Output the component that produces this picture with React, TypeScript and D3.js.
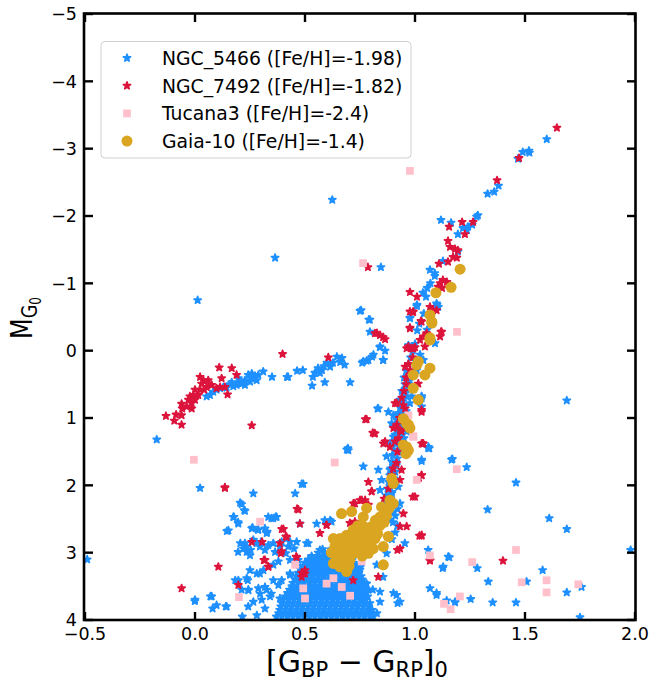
import React from "react";
import * as d3 from "d3";

type P = [number, number];

// ---------- data (colour, absolute magnitude) ----------
const ngc5466: P[] = [
  // upper RGB / AGB
  [1.599, -3.14], [1.49, -2.95], [1.518, -2.97], [1.52, -2.94], [1.468, -2.85], [1.38, -2.45], [1.36, -2.36],
  [1.33, -2.33], [1.286, -2.01], [1.28, -1.99], [1.26, -1.87], [1.24, -1.84], [1.236, -1.79], [1.218, -1.82],
  [1.195, -1.73], [1.118, -1.94], [1.164, -1.9], [1.195, -1.47], [1.127, -1.33], [1.068, -1.2], [1.09, -1.11],
  [0.845, -1.24], [1.055, -0.93], [1.036, -0.86], [1.009, -0.68], [1.1, -0.68], [0.977, -0.49], [0.755, -0.6],
  [0.795, -0.46], [0.795, -0.28], [1.055, -0.31], [0.364, -1.38], [0.624, -2.24], [0.012, -0.75],
  [1.01, -0.3], [1.02, -0.4], [1.04, -0.55], [1.05, -0.8], [1.07, -1.0], [1.09, -1.15],
  // horizontal branch
  [0.75, -0.59], [0.79, -0.46], [0.84, -0.05], [0.864, 0.0], [0.855, 0.14], [0.76, 0.18], [0.78, 0.15],
  [0.805, 0.09], [0.705, 0.47], [0.68, 0.21], [0.66, 0.17], [0.645, 0.09], [0.668, 0.11], [0.627, 0.18],
  [0.614, 0.24], [0.6, 0.18], [0.586, 0.23], [0.577, 0.29], [0.559, 0.26], [0.545, 0.33], [0.536, 0.39],
  [0.532, 0.52], [0.59, 0.47], [0.568, 0.33], [0.49, 0.29], [0.464, 0.3], [0.423, 0.39], [0.418, 0.39],
  [0.35, 0.39], [0.31, 0.31], [0.288, 0.36], [0.273, 0.4], [0.258, 0.41], [0.242, 0.36], [0.25, 0.46],
  [0.227, 0.44], [0.212, 0.49], [0.197, 0.48], [0.189, 0.51], [0.174, 0.53], [0.159, 0.5], [0.144, 0.55],
  [0.129, 0.54], [0.114, 0.56], [0.098, 0.58], [0.083, 0.61], [0.068, 0.66], [0.053, 0.68], [0.258, 0.34],
  [0.28, 0.44], [0.227, 0.51], [0.197, 0.41], [0.167, 0.47], [-0.174, 1.32], [0.695, 1.45],
  // RGB
  [0.977, -0.48], [0.97, -0.08], [0.83, 0.86], [0.879, 0.91], [0.894, 1.08], [0.909, 1.25], [0.955, 1.13],
  [0.932, 0.93], [0.947, 0.83], [0.962, 0.68], [0.97, 0.49], [0.841, -0.06], [0.811, 0.06], [0.788, 0.14],
  [0.765, 0.16], [0.856, 0.14], [1.008, -0.66], [1.098, -0.7], [1.106, -0.65], [1.091, -0.11], [1.023, 0.06],
  [1.038, 0.14], [1.008, 0.29], [0.977, 0.39], [0.97, 0.46], [0.962, 0.58], [0.947, 0.63], [0.985, 0.68],
  [0.932, 0.73], [1.03, 0.71], [0.939, 0.88], [0.924, 0.93], [0.902, 0.96], [0.917, 1.03], [0.833, 0.86],
  [0.977, 0.78], [0.902, 1.28], [0.886, 1.38], [1.061, 1.43], [0.932, 1.33], [0.962, 1.2], [1.03, 0.83],
  [0.96, 0.3], [0.97, 0.2], [0.98, 0.1], [0.99, 0.0], [1.0, -0.1], [0.95, 0.4], [0.955, 0.5], [0.94, 0.6],
  [0.945, 0.75], [0.935, 0.85], [0.93, 0.95], [1.03, 0.68],
  [0.94, 1.0], [0.93, 1.05], [0.95, 1.08], [0.925, 1.12], [0.945, 1.15], [0.92, 1.2], [0.935, 1.25],
  [0.915, 1.3], [0.94, 1.32], [0.91, 1.38], [0.93, 1.42], [0.905, 1.47], [0.925, 1.5], [0.9, 1.55],
  [0.92, 1.6], [0.895, 1.65], [0.915, 1.7], [0.89, 1.75], [0.91, 1.8], [0.885, 1.85], [0.905, 1.9],
  [0.88, 1.95], [0.9, 2.0], [0.875, 2.05], [0.895, 2.1], [0.87, 2.15], [0.89, 2.2], [0.865, 2.25],
  [0.885, 2.3], [0.86, 2.35], [0.88, 2.4], [0.855, 2.45], [0.875, 2.5], [0.92, 2.35], [0.91, 2.45],
  [0.9, 2.55], [0.92, 2.6], [0.91, 2.7], [0.895, 2.8], [0.9, 2.4], [0.955, 0.95], [0.96, 0.9], [0.95, 1.3],
  [0.697, 1.48], [0.765, 1.72], [0.833, 1.77], [0.848, 1.92], [0.841, 2.07], [0.932, 2.27], [0.901, 1.67],
  [0.924, 2.02], [0.886, 1.77], [0.871, 1.57], [1.06, 1.45], [1.166, 1.62], [1.03, 1.62], [0.954, 2.86],
  [1.06, 2.96], [1.128, 3.21], [1.151, 3.06], [1.098, 3.6], [1.182, 3.73], [0.621, 2.54], [0.59, 2.52],
  [0.742, 3.6], [0.788, 3.55], [0.841, 3.58], [0.841, 3.73], [0.916, 3.63], [0.932, 3.73], [0.78, 3.46],
  [0.826, 3.18], [0.871, 3.01], [0.886, 2.52], [0.894, 2.12],
  // scattered field
  [0.023, 2.04], [0.265, 2.12], [0.455, 2.12], [0.492, 1.98], [0.212, 2.28], [0.227, 2.38], [0.174, 2.47],
  [0.197, 2.57], [0.152, 2.67], [0.258, 2.64], [0.288, 2.66], [0.333, 2.47], [0.371, 2.47], [0.356, 2.49],
  [0.265, 2.81], [0.227, 2.86], [0.22, 2.94], [0.235, 2.99], [0.25, 3.04], [0.28, 2.86], [0.295, 2.91],
  [0.326, 2.71], [0.333, 2.89], [0.364, 2.99], [0.386, 2.91], [0.424, 2.91], [0.462, 2.84], [0.515, 2.86],
  [0.432, 3.11], [0.379, 3.13], [0.356, 3.18], [0.311, 3.26], [0.295, 3.31], [0.25, 3.26], [0.235, 3.38],
  [0.197, 3.41], [0.212, 3.55], [0.242, 3.55], [0.288, 3.53], [0.326, 3.55], [0.379, 3.48], [0.432, 3.33],
  [0.386, 3.68], [0.341, 3.65], [0.303, 3.7], [0.265, 3.73], [0.242, 3.8], [0.144, 3.8], [0.098, 3.78],
  [0.076, 3.65], [0.0, 3.7], [0.477, 2.57], [0.553, 2.57], [0.614, 2.52], [0.583, 3.06], [0.568, 2.96],
  [0.644, 2.96], [0.689, 3.31], [0.205, 2.26], [0.224, 2.37], [0.177, 2.47], [0.196, 2.55], [0.262, 2.63],
  [0.285, 2.66], [0.145, 2.68], [0.347, 2.49], [0.366, 2.47], [0.318, 2.64], [0.328, 2.69], [0.206, 2.86],
  [0.234, 2.91], [0.253, 2.96], [0.3, 2.84], [0.318, 2.96], [0.356, 2.86], [0.394, 2.84], [0.432, 2.84],
  [0.45, 2.94], [0.507, 2.86], [0.413, 3.01], [0.469, 3.11], [0.196, 2.99], [0.183, 3.41], [0.24, 3.41],
  [0.281, 3.31], [0.318, 3.51], [0.243, 3.56], [0.296, 3.61], [0.347, 3.61], [0.356, 3.41], [-0.001, 3.72],
  [0.07, 3.65], [0.08, 3.83], [0.14, 3.8], [0.215, 3.95], [0.281, 3.93], [0.318, 3.83], [0.394, 3.41],
  [0.432, 3.31], [-0.49, 3.1], [0.485, 1.98], [0.69, 1.47], [0.752, 3.46], [0.77, 3.7], [0.808, 3.55],
  [0.827, 3.9], [0.902, 3.6], [0.921, 3.75], [0.855, 3.36], [0.752, 3.21], [0.714, 3.11],
  [1.69, 0.74], [1.065, 1.45], [1.03, 1.64], [1.17, 1.61], [1.235, 1.73], [1.459, 1.96], [1.33, 2.36],
  [1.61, 2.49], [1.69, 2.65], [1.98, 2.96], [1.156, 3.07], [1.126, 3.23], [1.283, 3.23], [1.333, 3.43],
  [1.507, 3.43], [1.58, 3.26], [1.757, 3.51], [1.69, 3.59], [1.068, 3.53], [1.098, 3.63], [1.144, 3.71],
  [1.182, 3.74], [1.253, 3.69], [1.353, 3.74], [1.459, 3.74], [1.75, 3.96], [1.03, 0.68],
];

// dense turn-off / main-sequence region of NGC_5466, read row by row (M_G0, colours)
const ngc5466CoreRows: [number, number[]][] = [
  [2.95, [0.58, 0.62]],
  [3.0, [0.56, 0.59, 0.62, 0.65, 0.67]],
  [3.05, [0.53, 0.555, 0.58, 0.605, 0.63, 0.655, 0.68]],
  [3.1, [0.515, 0.54, 0.565, 0.59, 0.615, 0.64, 0.665, 0.69, 0.71]],
  [3.15, [0.5, 0.525, 0.55, 0.575, 0.6, 0.625, 0.65, 0.675, 0.7, 0.72]],
  [3.2, [0.49, 0.515, 0.54, 0.565, 0.59, 0.615, 0.64, 0.665, 0.69, 0.715, 0.735]],
  [3.25, [0.48, 0.505, 0.53, 0.555, 0.58, 0.605, 0.63, 0.655, 0.68, 0.705, 0.73, 0.75]],
  [3.3, [0.47, 0.495, 0.52, 0.545, 0.57, 0.595, 0.62, 0.645, 0.67, 0.695, 0.72, 0.745]],
  [3.35, [0.46, 0.485, 0.51, 0.535, 0.56, 0.585, 0.61, 0.635, 0.66, 0.685, 0.71, 0.735, 0.755]],
  [3.4, [0.455, 0.48, 0.505, 0.53, 0.555, 0.58, 0.605, 0.63, 0.655, 0.68, 0.705, 0.73, 0.76]],
  [3.45, [0.445, 0.47, 0.495, 0.52, 0.545, 0.57, 0.595, 0.62, 0.645, 0.67, 0.695, 0.72, 0.745, 0.77]],
  [3.5, [0.44, 0.465, 0.49, 0.515, 0.54, 0.565, 0.59, 0.615, 0.64, 0.665, 0.69, 0.715, 0.74, 0.765]],
  [3.55, [0.43, 0.455, 0.48, 0.505, 0.53, 0.555, 0.58, 0.605, 0.63, 0.655, 0.68, 0.705, 0.73, 0.755, 0.78]],
  [3.6, [0.42, 0.445, 0.47, 0.495, 0.52, 0.545, 0.57, 0.595, 0.62, 0.645, 0.67, 0.695, 0.72, 0.745, 0.77]],
  [3.65, [0.41, 0.435, 0.46, 0.485, 0.51, 0.535, 0.56, 0.585, 0.61, 0.635, 0.66, 0.685, 0.71, 0.735, 0.76, 0.785]],
  [3.7, [0.4, 0.425, 0.45, 0.475, 0.5, 0.525, 0.55, 0.575, 0.6, 0.625, 0.65, 0.675, 0.7, 0.725, 0.75, 0.775]],
  [3.75, [0.395, 0.42, 0.445, 0.47, 0.495, 0.52, 0.545, 0.57, 0.595, 0.62, 0.645, 0.67, 0.695, 0.72, 0.745, 0.77, 0.795]],
  [3.8, [0.39, 0.415, 0.44, 0.465, 0.49, 0.515, 0.54, 0.565, 0.59, 0.615, 0.64, 0.665, 0.69, 0.715, 0.74, 0.765, 0.79]],
  [3.85, [0.385, 0.41, 0.435, 0.46, 0.485, 0.51, 0.535, 0.56, 0.585, 0.61, 0.635, 0.66, 0.685, 0.71, 0.735, 0.76, 0.785, 0.805]],
  [3.9, [0.38, 0.405, 0.43, 0.455, 0.48, 0.505, 0.53, 0.555, 0.58, 0.605, 0.63, 0.655, 0.68, 0.705, 0.73, 0.755, 0.78, 0.8]],
  [3.95, [0.37, 0.395, 0.42, 0.445, 0.47, 0.495, 0.52, 0.545, 0.57, 0.595, 0.62, 0.645, 0.67, 0.695, 0.72, 0.745, 0.77, 0.795, 0.81]],
];

const ngc7492: P[] = [
  [1.645, -3.31], [1.473, -2.86], [1.373, -2.53], [1.214, -1.91], [1.264, -1.91], [1.155, -1.84], [1.227, -1.73],
  [1.15, -1.63], [1.159, -1.54], [1.182, -1.51], [1.195, -1.49], [1.173, -1.39], [1.19, -1.38], [1.109, -1.29],
  [1.15, -1.32], [0.786, -1.24], [1.114, -1.0], [1.127, -1.05], [1.145, -1.02], [1.105, -0.95], [1.123, -0.93],
  [0.977, -0.87], [1.009, -0.8], [0.99, -0.57], [1.027, -0.44], [1.068, -0.65], [1.082, -0.6], [0.977, -0.34],
  [1.118, -0.28], [0.827, -0.26], [0.855, -0.2],
  // horizontal branch
  [-0.132, 0.97], [-0.094, 1.04], [-0.086, 0.95], [-0.061, 1.1], [-0.061, 0.96], [-0.058, 0.86], [-0.061, 0.79],
  [-0.03, 0.73], [-0.038, 0.83], [-0.015, 0.86], [-0.023, 0.68], [0.0, 0.58], [-0.008, 0.66], [0.015, 0.66],
  [0.023, 0.58], [0.03, 0.49], [0.038, 0.44], [0.023, 0.39], [0.06, 0.44], [0.042, 0.58], [0.053, 0.54],
  [0.076, 0.51], [0.098, 0.56], [0.121, 0.41], [0.114, 0.54], [0.136, 0.54], [0.148, 0.65], [0.167, 0.26],
  [0.11, 0.25], [0.189, 0.36], [0.258, 1.11], [0.398, 0.05], [0.606, 0.1], [0.0, 0.73], [-0.015, 0.78],
  // RGB
  [0.818, -0.257], [0.841, -0.23], [0.864, -0.17], [0.977, -0.58], [0.977, -0.33], [0.962, -0.034],
  [0.985, -0.034], [0.955, 0.24], [0.78, 1.02], [0.815, 1.23], [0.856, 1.38], [0.917, 0.78],
  [1.098, -0.6], [0.992, -0.58], [1.03, -0.43], [1.121, -0.28], [1.114, -0.21], [1.053, -0.26], [1.038, -0.21],
  [1.023, -0.16], [0.97, -0.06], [0.992, -0.03], [1.045, -0.06], [1.015, 0.49], [1.03, 0.88], [0.977, 0.29],
  [0.864, 1.35], [0.909, 0.78], [0.947, 0.81], [0.955, 0.86], [0.917, 1.1], [0.939, 1.2], [0.902, 1.15],
  [1.03, 1.38], [0.818, 1.23], [0.886, 1.43], [0.909, 1.35], [0.932, 1.18], [0.916, 1.67], [0.939, 1.77],
  [0.932, 1.92], [1.0, 2.17], [1.038, 1.38], [1.03, 1.85], [0.947, 2.42], [0.962, 2.61], [0.932, 2.61],
  [1.03, 2.74], [0.932, 2.94], [1.068, 3.11], [0.833, 3.36], [0.788, 1.95], [0.803, 2.09], [0.773, 2.22],
  [0.75, 2.22], [0.727, 2.27], [0.704, 2.56], [0.598, 2.59], [0.568, 2.71], [0.719, 3.41], [0.492, 3.31],
  [0.96, 0.4], [0.95, 0.6], [0.94, 0.7], [0.93, 1.0], [0.925, 1.3], [0.92, 1.5], [0.9, 1.75], [0.895, 1.85],
  [0.88, 2.05], [0.86, 2.2], [0.99, 0.1], [1.0, -0.05], [0.98, 0.35], [0.96, 0.5], [0.97, 0.2],
  [1.03, 0.91], [1.035, 1.38], [1.03, 1.85], [1.03, 2.75], [1.068, 3.12], [1.4, 3.12], [1.018, 1.89],
  [0.99, 2.17], [1.02, 2.75], [0.92, 2.96],
  // scattered field
  [0.136, 2.03], [0.47, 2.36], [0.477, 2.57], [0.598, 2.59], [0.402, 2.65], [0.417, 2.77], [0.386, 2.86],
  [0.258, 2.84], [0.394, 2.98], [0.318, 3.11], [0.333, 3.21], [0.462, 3.07], [0.5, 3.31], [0.485, 3.36],
  [0.106, 3.21], [0.197, 3.48], [-0.061, 3.53], [0.72, 2.27], [0.727, 2.54], [0.758, 2.22], [0.788, 2.29],
  [0.803, 2.09], [0.136, 2.04], [0.464, 2.35], [0.394, 2.65], [0.413, 2.76], [0.305, 2.84], [0.39, 3.01],
  [0.46, 3.06], [0.313, 3.11], [0.334, 3.21], [0.485, 3.3], [0.5, 3.26], [0.774, 1.02], [0.808, 1.22],
];

const tucana3: P[] = [
  [0.977, -2.67], [0.764, -1.3], [1.191, -0.28], [0.97, 0.96], [0.992, 1.28], [0.993, 1.27], [1.008, 1.92],
  [1.19, 1.76], [-0.005, 1.62], [0.635, 1.66], [0.296, 2.54], [0.455, 3.18], [0.2, 3.66], [0.492, 3.53],
  [0.5, 3.68], [0.598, 3.46], [0.629, 3.38], [0.667, 3.51], [0.705, 3.64], [0.758, 3.13], [1.459, 2.96],
  [1.068, 3.04], [1.26, 3.14], [1.485, 3.44], [1.598, 3.41], [1.598, 3.59], [1.742, 3.47], [1.204, 3.65],
  [1.132, 3.76], [1.162, 3.84],
];

const gaia10: P[] = [
  [1.205, -1.21], [1.164, -0.94], [1.095, -0.86], [1.068, -0.53], [1.077, -0.41], [1.068, -0.19],
  [1.076, -0.43], [1.068, -0.16], [1.015, 0.16], [1.008, 0.21], [1.068, 0.26], [1.045, 0.36], [0.992, 0.36],
  [0.992, 0.56], [1.015, 0.73], [0.947, 1.01], [0.97, 1.1], [0.977, 1.15], [0.962, 1.43], [0.947, 1.4],
  [0.962, 1.08], [0.959, 1.43], [0.97, 1.48], [0.959, 1.53], [0.894, 1.9], [0.901, 1.97], [0.886, 2.22],
  [0.901, 2.27], [0.848, 2.32], [0.841, 2.47], [0.803, 2.61], [0.826, 2.66], [0.78, 2.69], [0.818, 2.79],
  [0.879, 2.76], [0.856, 2.91], [0.81, 2.94], [0.78, 2.86], [0.75, 2.81], [0.742, 2.71], [0.719, 2.66],
  [0.689, 2.74], [0.659, 2.79], [0.629, 2.79], [0.636, 2.91], [0.674, 2.86], [0.719, 2.91], [0.697, 2.99],
  [0.666, 3.03], [0.644, 3.11], [0.629, 3.16], [0.659, 3.21], [0.704, 3.11], [0.689, 3.28], [0.78, 2.34],
  [0.765, 2.47], [0.712, 2.39], [0.666, 2.42], [0.788, 3.01], [0.856, 3.18], [0.75, 2.74],
  [0.64, 2.85], [0.66, 2.95], [0.68, 2.9], [0.7, 2.8], [0.72, 2.75], [0.73, 2.85], [0.76, 2.9], [0.77, 2.78],
  [0.79, 2.75], [0.8, 2.8], [0.83, 2.72], [0.84, 2.6], [0.86, 2.55], [0.87, 2.45], [0.88, 2.35], [0.82, 2.52],
  [0.62, 3.0], [0.65, 3.08], [0.68, 3.15], [0.7, 3.2], [0.73, 3.0], [0.76, 3.05], [0.74, 2.6], [0.77, 2.62],
];

const xTicks = [-0.5, 0.0, 0.5, 1.0, 1.5, 2.0];
const yTicks = [-5, -4, -3, -2, -1, 0, 1, 2, 3, 4];

const seriesNames = [
  "NGC_5466 ([Fe/H]=-1.98)",
  "NGC_7492 ([Fe/H]=-1.82)",
  "Tucana3 ([Fe/H]=-2.4)",
  "Gaia-10 ([Fe/H]=-1.4)",
];

// ---------- layout ----------
const W = 652;
const H = 684;
const L = 85, R = 635, T = 14, B = 620;

const BLUE = "#1E90FF";
const RED = "#DC143C";
const PINK = "#FFC0CB";
const GOLD = "#DAA520";
const FONT = "'DejaVu Sans', sans-serif";

const x = d3.scaleLinear().domain([-0.5, 2.0]).range([L, R]);
const y = d3.scaleLinear().domain([-5, 4]).range([T, B]);

const starPath = d3.symbol().type(d3.symbolStar).size(16)() as string;
const squarePath = d3.symbol().type(d3.symbolSquare).size(60)() as string;

const fmtX = (v: number) => (v < 0 ? "\u2212" : "") + Math.abs(v).toFixed(1);
const fmtY = (v: number) => (v < 0 ? "\u2212" : "") + Math.abs(v).toString();

function Star({ cx, cy, color }: { cx: number; cy: number; color: string }) {
  return (
    <path d={starPath} fill={color} stroke={color} strokeWidth={1.7} strokeLinejoin="round"
      transform={`translate(${cx},${cy})`} />
  );
}

export default function App() {
  const core: P[] = ngc5466CoreRows.flatMap(([m, cs]) => cs.map((c) => [c, m] as P));
  const blue = [...core, ...ngc5466];
  const tick = 8;
  return (
    <svg width={W} height={H} style={{ position: "absolute", left: 0, top: 0, background: "#fff" }} fontFamily={FONT}>
      <defs>
        <clipPath id="plotclip">
          <rect x={L} y={T} width={R - L} height={B - T} />
        </clipPath>
      </defs>
      <g clipPath="url(#plotclip)">
        {blue.map((d, i) => <Star key={"b" + i} cx={x(d[0])} cy={y(d[1])} color={BLUE} />)}
        {ngc7492.map((d, i) => <Star key={"r" + i} cx={x(d[0])} cy={y(d[1])} color={RED} />)}
        {tucana3.map((d, i) => (
          <path key={"p" + i} d={squarePath} fill={PINK}
            transform={`translate(${x(d[0])},${y(d[1])})`} />
        ))}
        {gaia10.map((d, i) => (
          <circle key={"g" + i} cx={x(d[0])} cy={y(d[1])} r={5.5} fill={GOLD} />
        ))}
      </g>

      {/* frame */}
      <rect x={L - 1} y={T - 0.5} width={R - L + 1.5} height={B - T + 0.5} fill="none" stroke="#000" strokeWidth={2.6} />

      {/* x ticks (bottom + top, inward) */}
      {xTicks.map((t) => (
        <g key={"xt" + t}>
          <line x1={x(t)} x2={x(t)} y1={B} y2={B - tick} stroke="#000" strokeWidth={2.4} />
          <line x1={x(t)} x2={x(t)} y1={T} y2={T + tick} stroke="#000" strokeWidth={2.4} />
          <text x={x(t)} y={640} textAnchor="middle" fontSize={17.5} fill="#000">{fmtX(t)}</text>
        </g>
      ))}
      {/* y ticks (left + right, inward) */}
      {yTicks.map((t) => (
        <g key={"yt" + t}>
          <line x1={L} x2={L + tick} y1={y(t)} y2={y(t)} stroke="#000" strokeWidth={2.4} />
          <line x1={R} x2={R - tick} y1={y(t)} y2={y(t)} stroke="#000" strokeWidth={2.4} />
          <text x={77} y={y(t) + 6.3} textAnchor="end" fontSize={17.5} fill="#000">{fmtY(t)}</text>
        </g>
      ))}

      {/* axis labels */}
      <text x={357} y={672} textAnchor="middle" fontSize={30} fill="#000">
        [G<tspan fontSize={21} dy={5}>BP</tspan>
        <tspan dy={-5}> − G</tspan>
        <tspan fontSize={21} dy={5}>RP</tspan>
        <tspan dy={-5}>]</tspan>
        <tspan fontSize={21} dy={5}>0</tspan>
      </text>
      <text transform="translate(32,318) rotate(-90) scale(0.8,1)" textAnchor="middle" fontSize={30} fill="#000">
        M<tspan fontSize={22} dy={5}>G</tspan>
        <tspan fontSize={15} dy={4}>0</tspan>
      </text>

      {/* legend */}
      <rect x={101} y={41.5} width={310} height={116.5} rx={4} fill="#fff" fillOpacity={0.8} stroke="#d0d0d0" strokeWidth={1} />
      {seriesNames.map((name, i) => {
        const cy = 58 + i * 27.7;
        let marker: React.ReactNode;
        if (i === 0) marker = <Star cx={127} cy={cy} color={BLUE} />;
        else if (i === 1) marker = <Star cx={127} cy={cy} color={RED} />;
        else if (i === 2) marker = <path d={squarePath} fill={PINK} transform={`translate(127,${cy})`} />;
        else marker = <circle cx={127} cy={cy} r={5.5} fill={GOLD} />;
        return (
          <g key={name}>
            {marker}
            <text x={162} y={cy + 6.8} fontSize={18.8} fill="#000">{name}</text>
          </g>
        );
      })}
    </svg>
  );
}
